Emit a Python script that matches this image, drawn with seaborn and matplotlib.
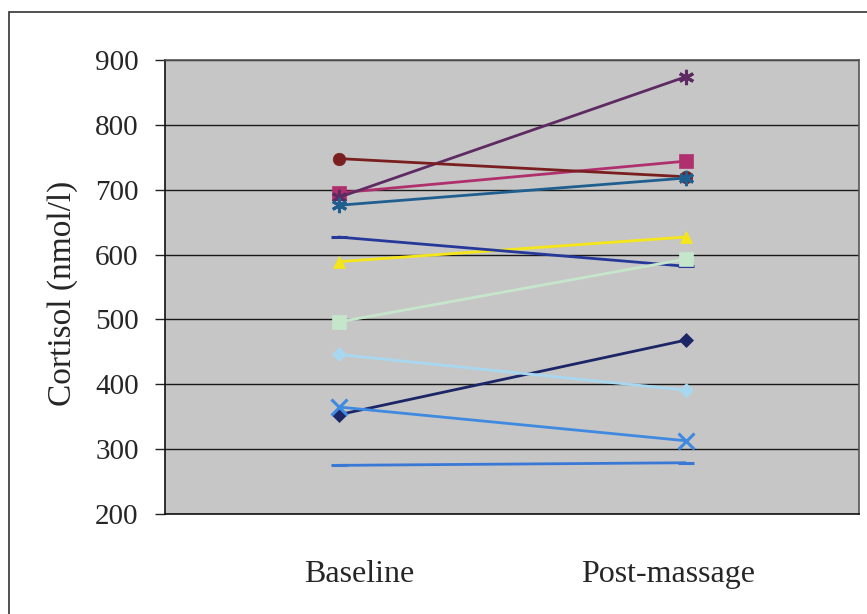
import matplotlib
matplotlib.use("Agg")
import matplotlib.pyplot as plt
from matplotlib.patches import Rectangle
from matplotlib.transforms import ScaledTranslation
import seaborn as sns
import pandas as pd

# Measurement occasions and cortisol readings per participant
occasions = ["Baseline", "Post-massage"]
subjects = ["S1", "S2", "S3", "S4", "S5", "S6", "S7", "S8", "S9", "S10", "S11"]
baseline = [353, 695, 589, 365, 688, 748, 676, 627, 446, 496, 275]
post_massage = [468, 744, 627, 313, 874, 720, 718, 582, 391, 593, 279]
y_ticks = [200, 300, 400, 500, 600, 700, 800, 900]

colors = ["#1c2566", "#b0306e", "#f5e61a", "#3f8ae0", "#5e2a62", "#7a1f1f",
          "#1f5f8f", "#26399a", "#a8d8f0", "#c6e6cc", "#3a78d6"]
asterisk = (6, 2, 0)
markers = ["D", "s", "^", "x", asterisk, "o", asterisk, "_", "D", "s", "_"]

df = pd.DataFrame({
    "subject": subjects * 2,
    "occasion": [occasions[0]] * len(subjects) + [occasions[1]] * len(subjects),
    "cortisol": baseline + post_massage,
})

sns.set_style("white")
plt.rcParams["font.family"] = ["Liberation Serif", "DejaVu Serif"]

fig = plt.figure(figsize=(8.67, 6.14), dpi=100)
ax = fig.add_axes([165 / 867, 1 - 514 / 614, (859 - 165) / 867, (514 - 60) / 614])

for subj, col, mk in zip(subjects, colors, markers):
    sub = df[df["subject"] == subj]
    line_art = mk in ("x", "_") or isinstance(mk, tuple)
    if line_art:
        size, mew = 11, 2.2
    elif mk == "s":
        size, mew = 9.5, 0.5
    elif mk == "D":
        size, mew = 7.5, 0.5
    else:
        size, mew = 9, 0.5
    sns.lineplot(
        data=sub, x="occasion", y="cortisol", color=col, marker=mk,
        markersize=size, markeredgewidth=mew, markeredgecolor=col,
        linewidth=2.0, sort=False, legend=False, ax=ax, zorder=3,
    )

ax.set_facecolor("#c6c6c6")
ax.set_xlim(-0.5, 1.5)
ax.set_ylim(200, 900)
ax.set_yticks(y_ticks)
ax.yaxis.grid(True, color="#1a1a1a", linewidth=1.0, zorder=1)
ax.set_axisbelow(True)
for side in ["top", "right", "left", "bottom"]:
    ax.spines[side].set_visible(True)
    ax.spines[side].set_color("#555555")
    ax.spines[side].set_linewidth(1.2)
ax.spines["bottom"].set_color("#111111")
ax.spines["left"].set_color("#111111")

ax.tick_params(axis="y", direction="out", length=7, width=1.0, color="#222222",
               labelsize=21, pad=12, left=True)
ax.tick_params(axis="x", length=0, labelsize=23, pad=33)
ax.set_xlabel("")
ax.set_ylabel("Cortisol (nmol/l)", fontsize=24)
ax.yaxis.set_label_coords(-87 / 694, 0.485)

# Category labels sit slightly off the marker columns
shifts = [21, -17]
for lbl, dx in zip(ax.get_xticklabels(), shifts):
    lbl.set_transform(lbl.get_transform() + ScaledTranslation(dx / 100, 0, fig.dpi_scale_trans))

# Outer chart frame
fig.patches.append(Rectangle((9 / 867, -0.1), 1.2, 1 - 12 / 614 + 0.1, transform=fig.transFigure,
                             fill=False, edgecolor="#333333", linewidth=1.2))

fig.savefig("out.png", dpi=100, facecolor="white")
